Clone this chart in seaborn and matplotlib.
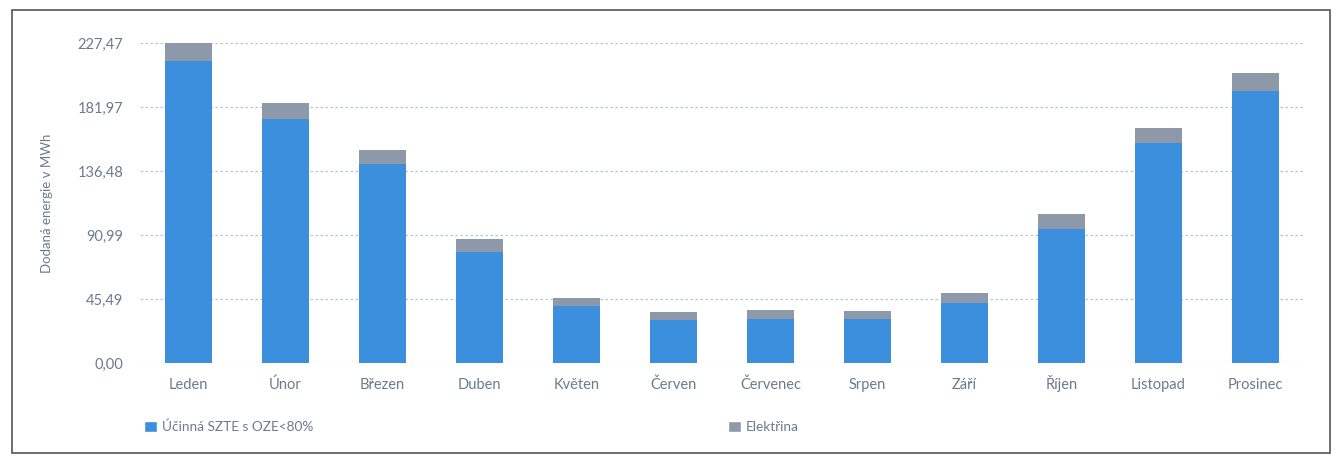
import matplotlib
matplotlib.use("Agg")
import matplotlib.pyplot as plt
import seaborn as sns
import pandas as pd
from matplotlib.patches import Rectangle, Patch

months = ["Leden", "Únor", "Březen", "Duben", "Květen", "Červen", "Červenec",
          "Srpen", "Září", "Říjen", "Listopad", "Prosinec"]
szte = [214.9, 173.2, 141.2, 79.1, 40.5, 30.6, 31.5, 31.3, 42.4, 95.2, 156.2, 193.6]
elektrina = [12.5, 11.4, 10.2, 8.8, 5.5, 5.9, 6.0, 5.9, 7.1, 10.5, 10.6, 12.8]
yticks = [0.00, 45.49, 90.99, 136.48, 181.97, 227.47]
ytick_labels = ["0,00", "45,49", "90,99", "136,48", "181,97", "227,47"]
series_names = ["Účinná SZTE s OZE<80%", "Elektřina"]

blue = "#3b8fdc"
grey = "#8d99a8"
text_col = "#6b7b8c"

df = pd.DataFrame({"month": months, "szte": szte, "elektrina": elektrina})
df["total"] = df["szte"] + df["elektrina"]

sns.set_style("white")
plt.rcParams["font.family"] = ["Lato", "DejaVu Sans"]

fig = plt.figure(figsize=(13.4, 4.57), dpi=100)
ax = fig.add_axes([0.1045, 0.2057, 0.8685, 0.7003])

sns.barplot(data=df, x="month", y="total", color=grey, width=0.48,
            saturation=1, ax=ax, zorder=3, linewidth=0, edgecolor="none")
sns.barplot(data=df, x="month", y="szte", color=blue, width=0.48,
            saturation=1, ax=ax, zorder=4, linewidth=0, edgecolor="none")

ax.set_ylim(0, 227.47)
ax.set_xlim(-0.5, len(months) - 0.5)
ax.set_yticks(yticks)
ax.set_yticklabels(ytick_labels)
ax.set_xlabel("")
ax.set_ylabel("Dodaná energie v MWh", color=text_col, fontsize=9.5, labelpad=18)
ax.tick_params(axis="both", length=0, colors=text_col, labelsize=10.5)
ax.tick_params(axis="x", pad=19)
ax.tick_params(axis="y", pad=12)
for lab in ax.get_xticklabels():
    lab.set_verticalalignment("baseline")
for s in ax.spines.values():
    s.set_visible(False)
ax.set_axisbelow(True)
ax.yaxis.grid(True, linestyle=(0, (2, 2)), color="#b5c6d6", linewidth=0.9)
for p in ax.patches:
    p.set_clip_on(False)

# outer frame
fig.patches.append(Rectangle((12 / 1340, 1 - 453 / 457), 1318 / 1340, 443 / 457,
                             transform=fig.transFigure, fill=False,
                             edgecolor="#555555", linewidth=1.2))

fig.legend(handles=[Patch(facecolor=blue, label=series_names[0])],
           loc="center left", bbox_to_anchor=(132 / 1340, 1 - 427 / 457),
           frameon=False, handlelength=0.9, handleheight=0.9,
           handletextpad=0.4, fontsize=9.8, labelcolor=text_col)
fig.legend(handles=[Patch(facecolor=grey, label=series_names[1])],
           loc="center left", bbox_to_anchor=(716 / 1340, 1 - 427 / 457),
           frameon=False, handlelength=0.9, handleheight=0.9,
           handletextpad=0.4, fontsize=9.8, labelcolor=text_col)

fig.savefig("out.png", dpi=100)
